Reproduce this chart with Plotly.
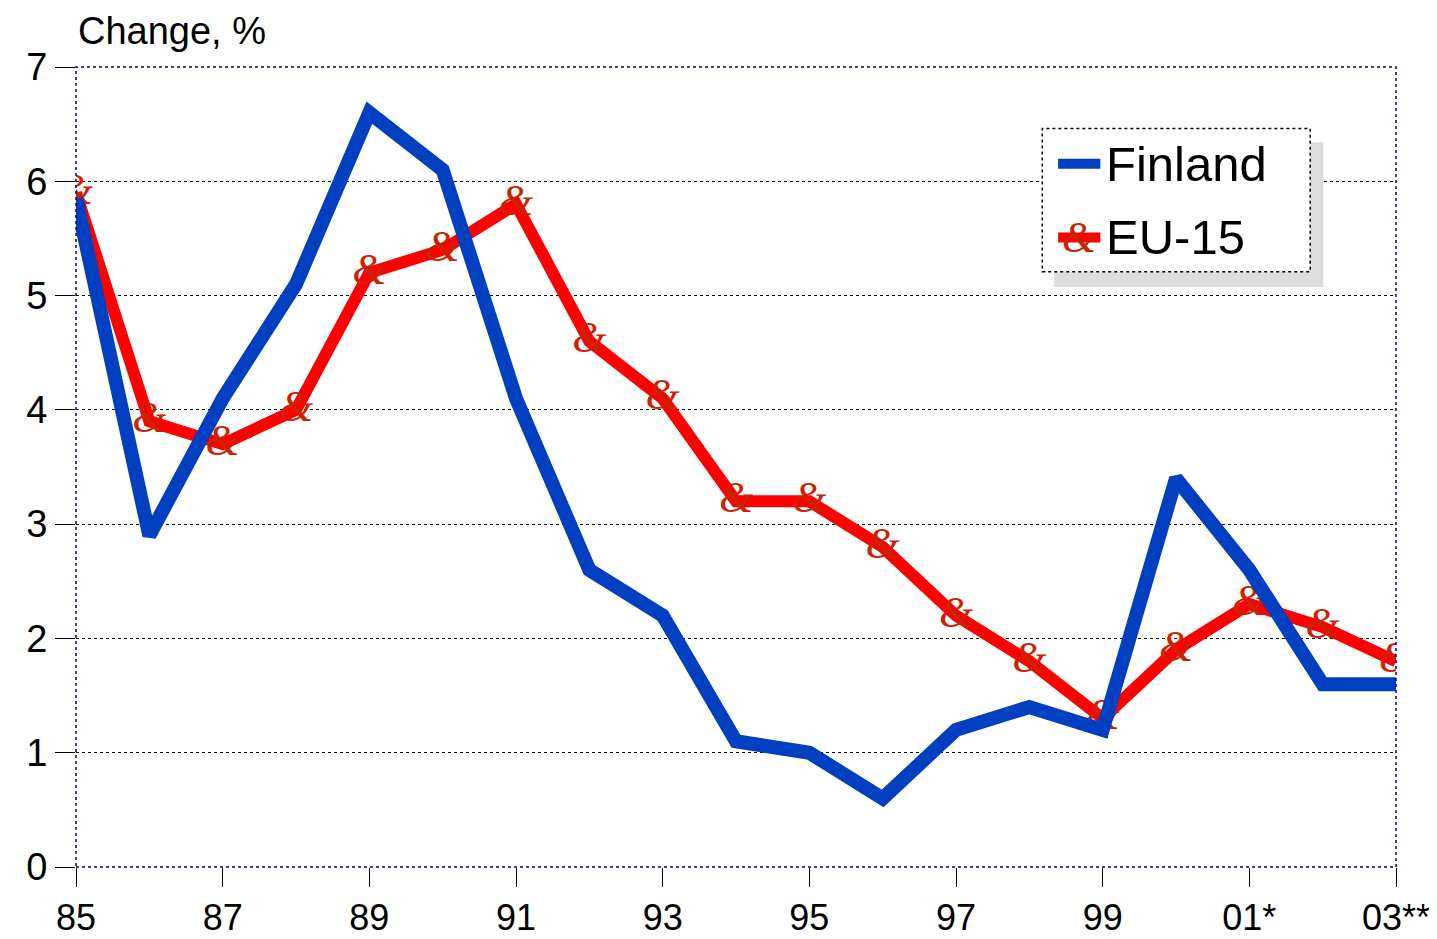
import plotly.graph_objects as go

# data
years = ['85', '86', '87', '88', '89', '90', '91', '92', '93', '94',
         '95', '96', '97', '98', '99', '00', '01*', '02', '03**']
finland = [5.85, 2.9, 4.1, 5.1, 6.6, 6.1, 4.1, 2.6, 2.2, 1.1,
           1.0, 0.6, 1.2, 1.4, 1.2, 3.4, 2.6, 1.6, 1.6]
eu15 = [5.9, 3.9, 3.7, 4.0, 5.2, 5.4, 5.8, 4.6, 4.1, 3.2,
        3.2, 2.8, 2.2, 1.8, 1.3, 1.9, 2.3, 2.1, 1.8]
tick_years = years[::2]
y_ticks = [0, 1, 2, 3, 4, 5, 6, 7]

BLUE = '#0040C0'
RED = '#FF0000'
AMP = '#CC2200'
FONT = 'Liberation Sans, Arial, sans-serif'
AMP_FONT = dict(family='Liberation Serif, serif', size=44, color=AMP, style='italic')

fig = go.Figure()

fig.add_trace(go.Scatter(x=years, y=eu15, mode='lines', name='EU-15',
                         line=dict(color=RED, width=12), showlegend=False))
fig.add_trace(go.Scatter(x=years, y=eu15, mode='text', text=['&'] * len(years),
                         textposition='middle center', textfont=AMP_FONT,
                         showlegend=False, hoverinfo='skip'))
fig.add_trace(go.Scatter(x=years, y=finland, mode='lines', name='Finland',
                         line=dict(color=BLUE, width=14), showlegend=False))

fig.update_xaxes(type='category', categoryorder='array', categoryarray=years,
                 range=[0, len(years) - 1], tickmode='array',
                 tickvals=tick_years, ticktext=tick_years,
                 ticks='outside', ticklen=19, tickwidth=1, tickcolor='black',
                 showgrid=False, showline=False, zeroline=False, automargin=False,
                 tickfont=dict(family=FONT, size=36, color='black'))
fig.update_yaxes(range=[0, 7], tickvals=y_ticks, ticks='outside', ticklen=20,
                 tickwidth=1, tickcolor='black', showgrid=True,
                 gridcolor='black', gridwidth=1, griddash='dot',
                 showline=False, zeroline=False, automargin=False,
                 tickfont=dict(family=FONT, size=38, color='black'))

# plot border (dotted navy)
fig.add_shape(type='rect', xref='paper', yref='paper', x0=0, x1=1, y0=0, y1=1,
              line=dict(color='#000080', width=1.5, dash='dot'), layer='above')

# legend box with shadow
fig.add_shape(type='rect', xref='paper', yref='paper', x0=0.741, x1=0.945,
              y0=0.725, y1=0.906, fillcolor='#DDDDDD', line=dict(width=0),
              layer='above')
fig.add_shape(type='rect', xref='paper', yref='paper', x0=0.732, x1=0.935,
              y0=0.744, y1=0.923, fillcolor='white',
              line=dict(color='black', width=1.5, dash='dot'), layer='above')
fig.add_shape(type='line', xref='paper', yref='paper', x0=0.744, x1=0.776,
              y0=0.879, y1=0.879, line=dict(color=BLUE, width=10), layer='above')
fig.add_shape(type='line', xref='paper', yref='paper', x0=0.744, x1=0.776,
              y0=0.787, y1=0.787, line=dict(color=RED, width=10), layer='above')
fig.add_annotation(xref='paper', yref='paper', x=0.760, y=0.787, text='&',
                   showarrow=False, xanchor='center', yanchor='middle',
                   font=AMP_FONT)
fig.add_annotation(xref='paper', yref='paper', x=0.779, y=0.879, text='Finland',
                   showarrow=False, xanchor='left', yanchor='middle',
                   font=dict(family=FONT, size=49, color='black'))
fig.add_annotation(xref='paper', yref='paper', x=0.779, y=0.787, text='EU-15',
                   showarrow=False, xanchor='left', yanchor='middle',
                   font=dict(family=FONT, size=49, color='black'))

# axis title
fig.add_annotation(xref='paper', yref='paper', x=0, y=1.0, yshift=13,
                   text='Change, %', showarrow=False, xanchor='left',
                   yanchor='bottom', font=dict(family=FONT, size=38, color='black'))

# the page adds an 8px body margin, so the figure is 8px smaller than the window
fig.update_layout(width=1429, height=931, plot_bgcolor='white',
                  paper_bgcolor='white', showlegend=False,
                  margin=dict(l=68, r=41, t=59, b=72))

fig.write_html('out.html')
